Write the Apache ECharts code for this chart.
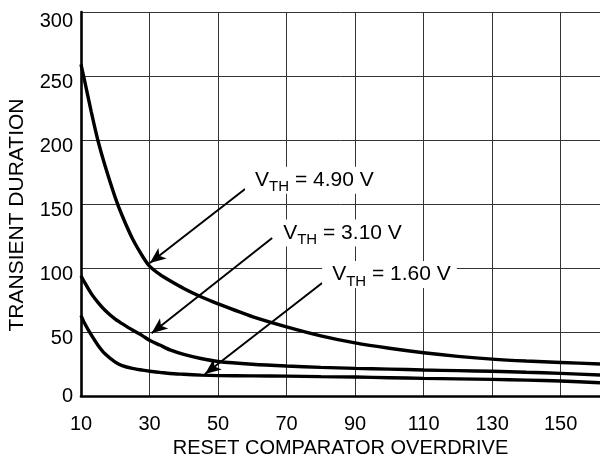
<!DOCTYPE html>
<html>
<head>
<meta charset="utf-8">
<script src="https://cdn.jsdelivr.net/npm/echarts@6/dist/echarts.min.js"></script>
<style>
html,body{margin:0;padding:0;background:#fff;}
#chart{width:600px;height:461px;}
</style>
</head>
<body>
<div id="chart"></div>
<script>
const xValues = [10, 11, 13, 15, 17, 20, 22, 25, 28, 30, 33, 36, 40, 45, 50, 60, 70, 80, 90, 100, 110, 120, 130, 140, 150, 161.5];
const vth490 = [259, 247, 222, 199, 180, 155, 141, 123, 109, 101.5, 95, 90, 84, 77.5, 72, 62, 54, 47, 41.5, 37.3, 33.8, 31, 28.8, 27.3, 26.2, 25];
const vth310 = [94, 89, 80, 73, 67, 60, 56.5, 51.5, 47, 43.5, 39.8, 36, 32.5, 29.3, 27, 24.8, 23.4, 22.4, 21.6, 21, 20.3, 19.8, 19.3, 18.5, 17.7, 16.4];
const vth160 = [63, 57, 47.7, 39.5, 33, 26.5, 23.8, 21.6, 20.2, 19.3, 18.5, 17.6, 17, 16.3, 15.9, 15.7, 15.5, 15.1, 14.8, 14.3, 13.8, 13.4, 13, 12.4, 11.7, 10.4];

const labelTexts = ['4.90', '3.10', '1.60'];
const labelPos = [[57.9, 168.5], [66.1, 127.3], [80.4, 94.9]];
const arrowStarts = [[57.9, 161.7], [65.8, 123.4], [80.4, 88.3]];
const arrowEnds = [[30.1, 103.9], [30.6, 49], [46.2, 17.2]];

const FONT = 'Liberation Sans, Arial, Helvetica, sans-serif';

function pairs(ys) { return xValues.map((x, i) => [x, ys[i]]); }

const curveStyle = { color: '#000', width: 3.4 };

const chart = echarts.init(document.getElementById('chart'), null, { renderer: 'canvas' });

const option = {
  animation: false,
  backgroundColor: '#fff',
  grid: { left: 81, top: 12, right: 0, bottom: 65, containLabel: false, outerBoundsMode: 'none' },
  xAxis: {
    type: 'value', min: 10, max: 161.5, interval: 20,
    name: 'RESET COMPARATOR OVERDRIVE', nameLocation: 'middle', nameGap: 42,
    nameTextStyle: { fontFamily: FONT, fontSize: 20, color: '#000' },
    axisLine: { show: true, onZero: false, lineStyle: { color: '#000', width: 2.6 } },
    axisTick: { show: false },
    axisLabel: { fontFamily: FONT, fontSize: 20, color: '#000', margin: 18, showMaxLabel: false, showMinLabel: true },
    splitLine: { show: true, lineStyle: { color: '#333', width: 1 } }
  },
  yAxis: {
    type: 'value', min: 0, max: 300, interval: 50,
    name: 'TRANSIENT DURATION', nameLocation: 'middle', nameGap: 53,
    nameTextStyle: { fontFamily: FONT, fontSize: 21, color: '#000', padding: [0, 22, 0, 0] },
    axisLine: { show: true, lineStyle: { color: '#000', width: 2.6 } },
    axisTick: { show: false },
    axisLabel: {
      fontFamily: FONT, fontSize: 20, color: '#000', margin: 8,
      formatter: function (v) { return v === 0 ? '{z|' + v + '}' : (v === 300 ? '{t|' + v + '}' : '{n|' + v + '}'); },
      rich: {
        z: { fontFamily: FONT, fontSize: 20, color: '#000', padding: [1, 0, 0, 0] },
        n: { fontFamily: FONT, fontSize: 20, color: '#000', padding: [13, 0, 0, 0] },
        t: { fontFamily: FONT, fontSize: 20, color: '#000', padding: [19, 0, 0, 0] }
      }
    },
    splitLine: { show: true, lineStyle: { color: '#333', width: 1 } }
  },
  series: [
    { name: 'VTH = 4.90 V', type: 'line', data: pairs(vth490), showSymbol: false, smooth: 0.25, lineStyle: curveStyle, z: 3 },
    { name: 'VTH = 3.10 V', type: 'line', data: pairs(vth310), showSymbol: false, smooth: 0.25, lineStyle: curveStyle, z: 3 },
    { name: 'VTH = 1.60 V', type: 'line', data: pairs(vth160), showSymbol: false, smooth: 0.25, lineStyle: curveStyle, z: 3 },
    {
      name: 'annotations', type: 'line', data: [], z: 5,
      markLine: {
        silent: true, animation: false,
        symbol: ['none', 'arrow'], symbolSize: [10, 16],
        label: { show: false },
        lineStyle: { color: '#000', width: 2, type: 'solid' },
        data: arrowStarts.map((s, i) => [{ coord: s }, { coord: arrowEnds[i] }])
      },
      markPoint: {
        silent: true, animation: false,
        symbol: 'circle', symbolSize: 0,
        data: labelTexts.map((t, i) => ({
          coord: labelPos[i],
          label: {
            show: true, position: 'right', distance: 0,
            formatter: '{m|V}{s|TH}{m| = ' + t + ' V}',
            backgroundColor: '#fff', padding: [3, 6, 3, 10],
            rich: {
              m: { fontFamily: FONT, fontSize: 21, color: '#000', lineHeight: 21, verticalAlign: 'top' },
              s: { fontFamily: FONT, fontSize: 15, color: '#000', lineHeight: 15, verticalAlign: 'top', padding: [10, 0, 0, 0] }
            }
          }
        }))
      }
    }
  ]
};
chart.setOption(option);
</script>
</body>
</html>
